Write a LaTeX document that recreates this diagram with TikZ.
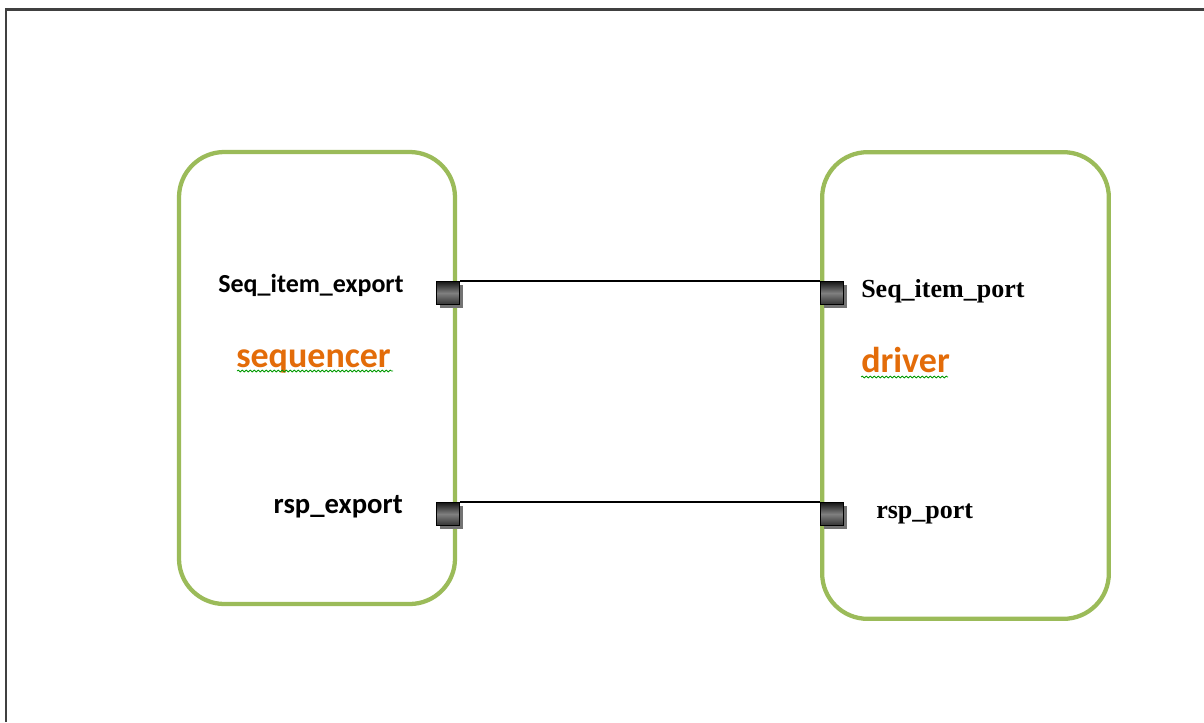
\documentclass[tikz,border=0pt]{standalone}
\usepackage{fontspec}
\usetikzlibrary{shadows,decorations.pathmorphing}
\newfontfamily\calibrifont{Carlito}
\newfontfamily\tnrfont{Liberation Serif}
\definecolor{boxgreen}{RGB}{155,187,89}
\definecolor{nameorange}{RGB}{227,108,9}
\definecolor{framegray}{RGB}{64,64,64}
\tikzset{
  block/.style={draw=boxgreen,line width=3.2pt,rounded corners=34pt,inner sep=0pt},
  port/.style={draw=black,line width=1.1pt,minimum size=17pt,inner sep=0pt,anchor=north west,
    top color=black!90,bottom color=black!80,middle color=black!50,
    drop shadow={shadow xshift=2.5pt,shadow yshift=-2.5pt,fill=black!55,opacity=1}},
  sanslbl/.style={font=\calibrifont\bfseries\fontsize{19.5}{22}\selectfont,inner sep=0pt},
  seriflbl/.style={font=\tnrfont\bfseries\fontsize{19.5}{22}\selectfont,inner sep=0pt},
  namelbl/.style={font=\calibrifont\bfseries\fontsize{27}{30}\selectfont,text=nameorange,inner sep=0pt},
  squiggle/.style={draw=green!60!black,line width=0.6pt,decorate,
    decoration={snake,amplitude=0.7pt,segment length=3pt}}
}
\begin{document}
\begin{tikzpicture}[x=0.75pt,y=-0.75pt]
        \useasboundingbox (0,0) rectangle (1204,722);
        % frame
        \draw[framegray,line width=2.2pt] (6,722) -- (6,9.5) -- (1204,9.5);
        % sequencer
        \node[block,minimum width=207pt,minimum height=339pt] (seqbox) at (317,378) {};
        \node[sanslbl,anchor=base east] (seqexp) at (404,292) {Seq\_item\_export};
        \node[namelbl,anchor=base west] (seqname) at (236,367) {sequencer};
        \node[sanslbl,anchor=base east,font=\calibrifont\bfseries\fontsize{21.5}{24}\selectfont] (rspexp) at (403,513) {rsp\_export};
        \draw[squiggle] (237,371) -- (393,371);
        % driver
        \node[block,minimum width=215pt,minimum height=350pt] (drvbox) at (965.5,385.5) {};
        \node[seriflbl,anchor=base west] (seqport) at (861,297) {Seq\_item\_port};
        \node[namelbl,anchor=base west] (drvname) at (861,372) {driver};
        \node[seriflbl,anchor=base west] (rspport) at (876,518) {rsp\_port};
        \draw[squiggle] (861,377) -- (948,377);
        % ports
        \node[port] (lp1) at (436,281) {};
        \node[port] (rp1) at (820,281) {};
        \node[port] (lp2) at (436,502) {};
        \node[port] (rp2) at (820,502) {};
        % connections
        \draw[line width=1pt] (lp1.north east) -- (rp1.north west);
        \draw[line width=1pt] (lp2.north east) -- (rp2.north west);
    \end{tikzpicture}
\end{document}
